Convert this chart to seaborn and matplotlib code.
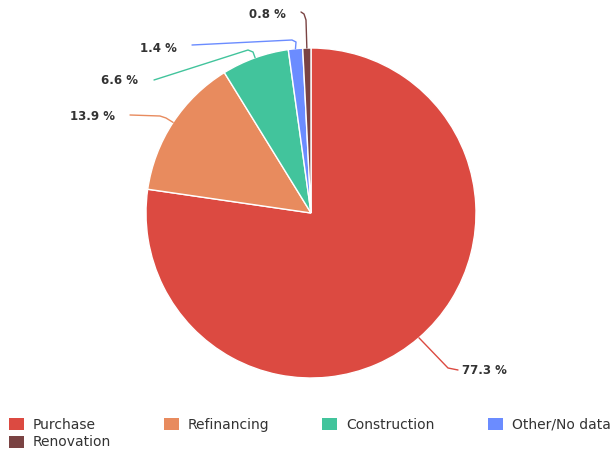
import numpy as np
import matplotlib
matplotlib.use("Agg")
import matplotlib.pyplot as plt
from matplotlib.patches import Patch
import seaborn as sns

# Loan purpose shares (%)
categories = ["Purchase", "Refinancing", "Construction", "Other/No data", "Renovation"]
shares = [77.3, 13.9, 6.6, 1.4, 0.8]
colors = ["#dc4a41", "#e88b5e", "#42c49c", "#6b8cff", "#7a4343"]

sns.set_theme(style="white")
plt.rcParams["font.family"] = ["DejaVu Sans"]

W, H = 613, 454
CX, CY, R = 311, 213, 165  # pie centre and radius in pixels

fig = plt.figure(figsize=(W / 100, H / 100), dpi=100)
ax = fig.add_axes([(CX - R) / W, (H - CY - R) / H, 2 * R / W, 2 * R / H])

palette = sns.color_palette(colors)
wedges, _ = ax.pie(shares, colors=palette, startangle=90, counterclock=False,
                   radius=1, center=(0, 0),
                   wedgeprops=dict(edgecolor="white", linewidth=1.0))
ax.set_xlim(-1, 1)
ax.set_ylim(-1, 1)
ax.set_aspect("equal")
ax.axis("off")


def px(x, y):
    """Pixel position -> pie data coordinates."""
    return (x - CX) / R, (CY - y) / R


# label text anchor (px), alignment, and connector bends (px)
label_layout = [
    ((462, 371), "left", [(448, 368), (458, 370)]),
    ((115, 117), "right", [(166, 118), (160, 116), (130, 115)]),
    ((138, 81), "right", [(253, 52), (248, 50), (154, 80)]),
    ((177, 49), "right", [(296, 42), (292, 40), (192, 45)]),
    ((286, 15), "right", [(306, 20), (304, 14), (301, 12)]),
]

for w, val, col, (tpos, ha, bends) in zip(wedges, shares, palette, label_layout):
    mid = np.deg2rad((w.theta1 + w.theta2) / 2)
    pts = [(np.cos(mid), np.sin(mid))] + [px(*b) for b in bends]
    xs, ys = zip(*pts)
    ax.plot(xs, ys, color=col, lw=1.0, clip_on=False, solid_capstyle="round")
    tx, ty = px(*tpos)
    ax.text(tx, ty, f"{val} %", ha=ha, va="center", fontsize=8.5,
            fontweight="bold", color="#333333", clip_on=False)

# legend laid out row by row (Renovation wraps to second row)
handles = [Patch(facecolor=c, edgecolor="none") for c in palette]
order = [0, 4, 1, 2, 3]
fig.legend([handles[i] for i in order], [categories[i] for i in order],
           loc="upper left", bbox_to_anchor=(9 / W, 1 - 418 / H), ncol=4,
           frameon=False, fontsize=10, handlelength=1.08, handleheight=1.0,
           handletextpad=0.65, columnspacing=3.8, labelspacing=0.25,
           borderaxespad=0, borderpad=0, labelcolor="#333333")

fig.savefig("out.png", dpi=100, facecolor="white")
